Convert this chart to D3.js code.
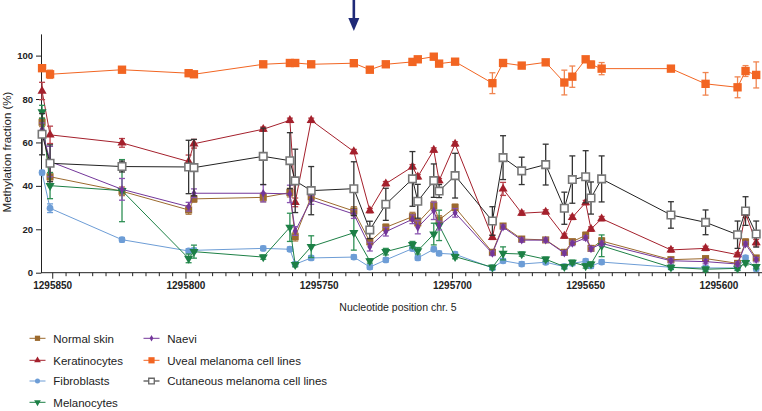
<!DOCTYPE html>
<html><head><meta charset="utf-8">
<script src="https://cdn.jsdelivr.net/npm/d3@7"></script>
<style>body{margin:0;background:#fff}svg{display:block;font-family:"Liberation Sans",Arial,sans-serif}</style>
</head><body><svg id="c" width="762" height="411"></svg>
<script>
const positions=[1295854,1295851,1295824,1295799,1295797,1295771,1295761,1295759,1295753,1295737,1295731,1295725,1295715,1295713,1295707,1295705,1295699,1295685,1295681,1295674,1295665,1295658,1295655,1295650,1295648,1295644,1295618,1295605,1295593,1295590,1295586];
const normalSkin=[69.3,44.2,37.5,28.9,34.0,34.7,36.9,16.6,35.0,28.4,14.3,20.9,25.8,23.0,30.9,24.3,30.1,9.4,21.5,15.5,15.1,9.4,14.3,17.2,11.2,14.6,6.0,6.5,4.3,14.1,6.8];
const normalSkinErr=[2,2,2,2,1.5,2,2,2,2,2,1.5,1.5,2,1.5,2,2,1.5,1,1,1,1,1,1,1.5,1,1.5,1,1,1,1.5,1];
const keratinocytes=[83.7,63.5,59.8,51.2,59.4,66.1,70.2,32.4,70.2,55.8,28.6,41.0,48.8,44.2,56.5,42.4,59.3,16.3,38.6,27.4,28.0,16.9,25.5,32.3,20.1,24.9,10.5,11.2,8.3,27.4,13.8];
const keratinocytesErr=[4,4,2,3,2,1,1,2,1,1,1,1,1,1,1,1,1,1,3,1,1,1,1,1,1,1,1,1,1,2,1.5];
const fibroblasts=[46.1,29.7,15.2,10.0,10.3,11.2,10.8,3.9,6.8,7.2,2.6,5.9,11.1,6.8,10.8,8.9,8.5,2.2,5.5,4.0,4.8,2.8,4.3,5.3,3.1,4.9,2.5,2.2,2.2,6.9,1.8];
const fibroblastsErr=[1,2,1,1,1,1,1,1,1,1,1,1,1,1,1,1,1,1,1,1,1,1,1,1,1,1,1,1,1,1,1];
const melanocytes=[74.1,40.1,37.8,6.6,9.7,7.2,20.9,3.7,12.0,18.4,5.4,9.7,12.9,10.1,17.8,21.8,7.4,2.5,8.9,8.6,6.2,2.8,4.8,3.1,4.0,12.4,2.5,1.6,2.0,4.6,2.8];
const melanocytesErr=[3,6,14.3,2,3,1,6.5,1,5,8,1,1.5,1.5,1.5,5,7,1,1,3,1,1,1,1,1,1,5,1,1,1,1,1];
const naevi=[66,51.2,38.4,30.4,36.6,36.6,36.3,19.2,33.5,27.0,12.0,18.9,24.6,20.9,28.5,21.7,27.6,8.9,21,15,15,9,13.5,16,11,13.5,5.5,5.1,4,13.2,6];
const naeviErr=[3,7,5,2,2,4,4,2,2,2,2,2,2,3,4,2,2,1,1,1,1,1,1,1,1,1,1,1,1,1,1];
const uveal=[94.2,91.4,93.5,91.9,91.4,96.0,96.6,96.6,96.0,96.5,93.5,96.0,97.1,98.3,99.5,96.3,97.2,87.3,96.6,95.4,96.9,87.6,90.3,98.3,95.9,94.0,94.0,87.0,85.4,92.9,91.1];
const uvealErr=[1,1.9,1,1,1,1,1,1,1,1,1,1,1,1,1,1,1,4.8,1,1,1,5.7,4.9,1,1.5,2.8,1,5.2,4.8,2.5,6];
const cutaneous=[63.8,50.4,48.9,48.7,48.4,53.6,51.6,42.3,37.8,38.7,19.7,31.5,43.2,32.9,42.4,37.6,44.7,23.8,53.0,46.9,49.8,29.7,42.9,44.2,34.4,43.2,26.6,23.2,17.5,28.4,17.8];
const cutaneousErr=[9.5,8.5,2.5,12.3,13,13,12.9,14.6,11.1,12.4,4,7.4,12.6,7.8,7.7,3,10.3,6.6,10.1,6.3,9.4,7.4,10.9,12,7.4,10.6,6.1,5.7,6.3,6.6,6];
const xTicks=[1295850,1295800,1295750,1295700,1295650,1295600];
const yTicks=[0,20,40,60,80,100];
const arrowPosition=1295737;

const series=[
 {name:"Normal skin",v:normalSkin,e:normalSkinErr,color:"#9c6a2e",ecolor:"#b08050",sym:d3.symbolSquare,size:50,fill:true},
 {name:"Keratinocytes",v:keratinocytes,e:keratinocytesErr,color:"#a4202c",ecolor:"#b8404a",sym:d3.symbolTriangle,size:36,fill:true},
 {name:"Fibroblasts",v:fibroblasts,e:fibroblastsErr,color:"#6d9dd6",ecolor:"#6d9dd6",sym:d3.symbolCircle,size:36,fill:true},
 {name:"Melanocytes",v:melanocytes,e:melanocytesErr,color:"#1d8046",ecolor:"#2e9055",sym:d3.symbolTriangle,size:36,fill:true,down:true},
 {name:"Naevi",v:naevi,e:naeviErr,color:"#73369a",ecolor:"#8a55b0",sym:d3.symbolDiamond,size:22,fill:true},
 {name:"Uveal melanoma cell lines",v:uveal,e:uvealErr,color:"#f26522",ecolor:"#f08550",sym:d3.symbolSquare,size:70,fill:true},
 {name:"Cutaneous melanoma cell lines",v:cutaneous,e:cutaneousErr,color:"#222",ecolor:"#333",sym:d3.symbolSquare,size:56,fill:false}
];

const svg=d3.select("#c");
const x=d3.scaleLinear().domain([1295854.4,1295584.2]).range([41,761]);
const y=d3.scaleLinear().domain([0,110]).range([272.7,33.9]);

// axes
const xAxisG=svg.append("g").attr("transform","translate(0,272.7)");
xAxisG.append("line").attr("x1",41).attr("x2",762).attr("stroke","#222").attr("stroke-width",1);
const minor=d3.range(1295850,1295584,-5);
xAxisG.selectAll("line.mt").data(minor).join("line").attr("class","mt")
 .attr("x1",d=>x(d)).attr("x2",d=>x(d)).attr("y1",0).attr("y2",d=>d%50===0?6:3.5).attr("stroke","#222");
xAxisG.selectAll("text").data(xTicks).join("text").attr("x",d=>x(d)).attr("y",16.6)
 .attr("text-anchor","middle").attr("font-size",10).attr("font-weight","bold").attr("fill","#222").text(d=>d);

const yAxis=d3.axisLeft(y).tickValues(yTicks).tickSize(5).tickPadding(3).tickSizeOuter(0);
const yg=svg.append("g").attr("transform","translate(41,0)").call(yAxis);
yg.select(".domain").attr("stroke","#222");
yg.selectAll(".tick line").attr("stroke","#222");
yg.selectAll(".tick text").attr("font-size",9.5).attr("font-weight","bold").attr("fill","#222").attr("font-family","Liberation Sans, Arial, sans-serif");

svg.append("text").attr("transform","translate(10.5,152) rotate(-90)").attr("text-anchor","middle")
 .attr("font-size",11.5).attr("fill","#222").text("Methylation fraction (%)");
svg.append("text").attr("x",398).attr("y",311).attr("text-anchor","middle")
 .attr("font-size",10.5).attr("fill","#222").text("Nucleotide position chr. 5");

// arrow
const ax=x(arrowPosition);
svg.append("line").attr("x1",ax).attr("x2",ax).attr("y1",0).attr("y2",20).attr("stroke","#1f2a78").attr("stroke-width",2.6);
svg.append("path").attr("d",`M${ax-5.5},18 L${ax+5.5},18 L${ax},31 Z`).attr("fill","#1f2a78");

const line=d3.line().x((d,i)=>x(positions[i])).y(d=>y(d));
series.forEach(s=>{
  const g=svg.append("g");
  g.append("path").attr("d",line(s.v)).attr("fill","none").attr("stroke",s.color).attr("stroke-width",1);
  const eb=g.selectAll("g.eb").data(s.v).join("g").attr("class","eb");
  eb.append("line").attr("x1",(d,i)=>x(positions[i])).attr("x2",(d,i)=>x(positions[i]))
    .attr("y1",(d,i)=>y(d-s.e[i])).attr("y2",(d,i)=>y(d+s.e[i])).attr("stroke",s.ecolor).attr("stroke-width",1.3);
  [-1,1].forEach(sg=>{
    eb.append("line").attr("x1",(d,i)=>x(positions[i])-3).attr("x2",(d,i)=>x(positions[i])+3)
      .attr("y1",(d,i)=>y(d+sg*s.e[i])).attr("y2",(d,i)=>y(d+sg*s.e[i])).attr("stroke",s.ecolor).attr("stroke-width",1.3);
  });
  const sym=d3.symbol().type(s.sym).size(s.size);
  g.selectAll("path.m").data(s.v).join("path").attr("class","m").attr("d",sym)
    .attr("transform",(d,i)=>`translate(${x(positions[i])},${y(d)})${s.down?" rotate(180)":""}`)
    .attr("fill",s.fill?s.color:"#fff").attr("stroke",s.fill?"none":"#777").attr("stroke-width",s.fill?0:1.6);
});

// legend
const lx=[37.5,151.5], rowsY=[338.3,360.3,381,402.3];
const layout=[[0,0],[1,0],[2,0],[3,0],[0,1],[1,1],[2,1]];
series.forEach((s,k)=>{
  const [r,c]=layout[k]; const cx=lx[c], cy=rowsY[r];
  const g=svg.append("g");
  g.append("line").attr("x1",cx-8).attr("x2",cx+8).attr("y1",cy).attr("y2",cy).attr("stroke",s.color).attr("stroke-width",1);
  g.append("path").attr("d",d3.symbol().type(s.sym).size(s.size*0.55)())
   .attr("transform",`translate(${cx},${cy})${s.down?" rotate(180)":""}`)
   .attr("fill",s.fill?s.color:"#fff").attr("stroke",s.fill?"none":"#666").attr("stroke-width",s.fill?0:1.3);
  g.append("text").attr("x",cx+15.8).attr("y",cy+4.2).attr("font-size",11.5).attr("fill","#222").text(s.name);
});
</script></body></html>
